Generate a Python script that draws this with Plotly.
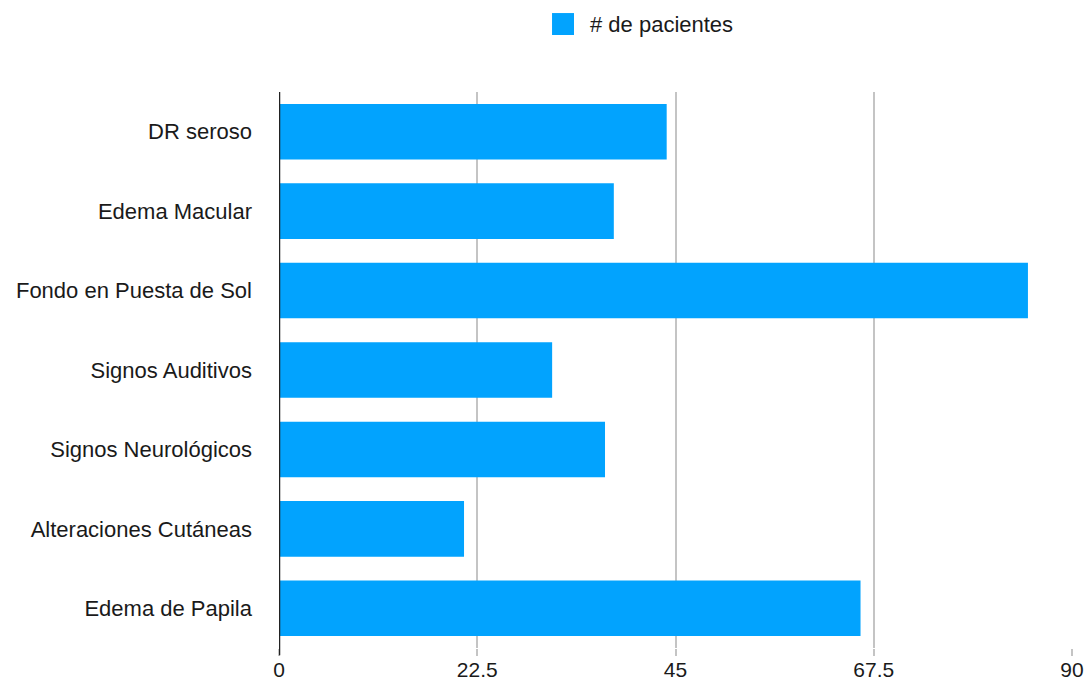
import plotly.graph_objects as go

categories = ["DR seroso", "Edema Macular", "Fondo en Puesta de Sol", "Signos Auditivos",
              "Signos Neurológicos", "Alteraciones Cutáneas", "Edema de Papila"]
pacientes = [44, 38, 85, 31, 37, 21, 66]
tick_vals = [0, 22.5, 45, 67.5, 90]
tick_text = ["0", "22.5", "45", "67.5", "90"]
series_name = "# de pacientes"

FONT = "Liberation Sans, Arial, sans-serif"
BAR = "#02A3FE"
FS = 22

fig = go.Figure()
fig.add_trace(go.Bar(
    x=pacientes, y=categories, orientation="h", name=series_name,
    marker=dict(color=BAR, line=dict(width=0)),
    showlegend=False,
))

fig.update_layout(
    width=1090, height=683,
    margin=dict(l=279, r=18, t=92, b=35),
    paper_bgcolor="white", plot_bgcolor="white",
    font=dict(family=FONT, size=FS, color="#1a1a1a"),
    bargap=0.3,
    xaxis=dict(range=[0, 90], tickvals=tick_vals, ticktext=tick_text, automargin=False,
               showgrid=True, gridcolor="#c4c4c4", gridwidth=2,
               zeroline=False, showline=False,
               ticks="outside", ticklen=7, tickwidth=2, tickcolor="#c4c4c4",
               ticklabelstandoff=-4,
               tickfont=dict(family=FONT, size=21)),
    yaxis=dict(autorange="reversed", showgrid=False, zeroline=False, showline=False,
               automargin=False, ticks="", ticklabelstandoff=26,
               tickfont=dict(family=FONT, size=FS)),
)
fig.add_shape(type="line", xref="x", yref="paper", x0=0, x1=0, y0=-0.013, y1=1,
              line=dict(color="#222222", width=2.5))
# legend swatch + label
fig.add_shape(type="rect", xref="paper", yref="paper", x0=0.3443, x1=0.372,
              y0=1.1025, y1=1.142, fillcolor=BAR, line=dict(width=0))
fig.add_annotation(xref="paper", yref="paper", x=0.3897, y=1.1223, text=series_name,
                   showarrow=False, xanchor="left", yanchor="middle",
                   font=dict(family=FONT, size=FS, color="#1a1a1a"))

fig.write_html("out.html")
